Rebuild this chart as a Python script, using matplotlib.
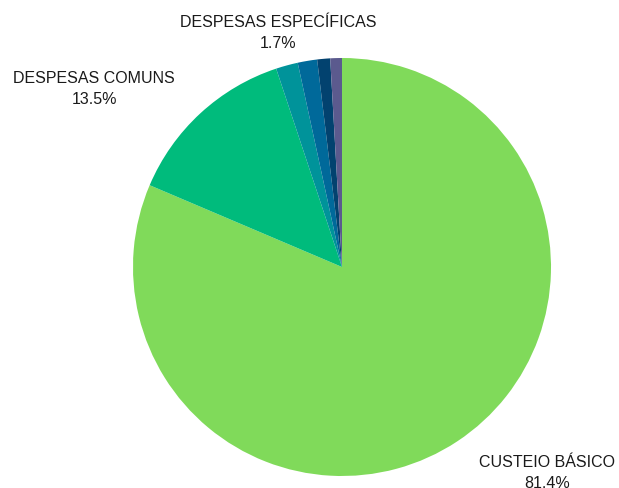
import matplotlib.pyplot as plt

labels = ["CUSTEIO BÁSICO", "DESPESAS COMUNS", "DESPESAS ESPECÍFICAS", "", "", ""]
values = [81.4, 13.5, 1.7, 1.5, 1.0, 0.9]
colors = ["#80da5a", "#00bb7c", "#00939a", "#00699a", "#02426f", "#5b5a8e"]

# label positions in pixels (centre of the two-line block)
label_px = {
    "CUSTEIO BÁSICO": (547, 473),
    "DESPESAS COMUNS": (94, 89),
    "DESPESAS ESPECÍFICAS": (278, 33),
}

W, H = 619, 489
cx, cy, r = 342, 268, 209

fig = plt.figure(figsize=(W / 100, H / 100), dpi=100)
ax = fig.add_axes([(cx - r) / W, (H - cy - r) / H, 2 * r / W, 2 * r / H])
plt.rcParams['font.family'] = ['Liberation Sans', 'DejaVu Sans']

ax.pie(values, colors=colors, startangle=90, counterclock=False, radius=1,
       wedgeprops=dict(edgecolor="none", linewidth=0))
ax.set_xlim(-1, 1)
ax.set_ylim(-1, 1)
ax.set_aspect("equal")
ax.axis("off")

for name, val in zip(labels, values):
    if name in label_px:
        px, py = label_px[name]
        ax.text((px - cx) / r, (cy - py) / r, f"{name}\n{val}%",
                ha="center", va="center", fontsize=11.5, color="#1a1a1a",
                linespacing=1.45, family=['Liberation Sans', 'DejaVu Sans'],
                clip_on=False)

fig.savefig("out.png", dpi=100)
